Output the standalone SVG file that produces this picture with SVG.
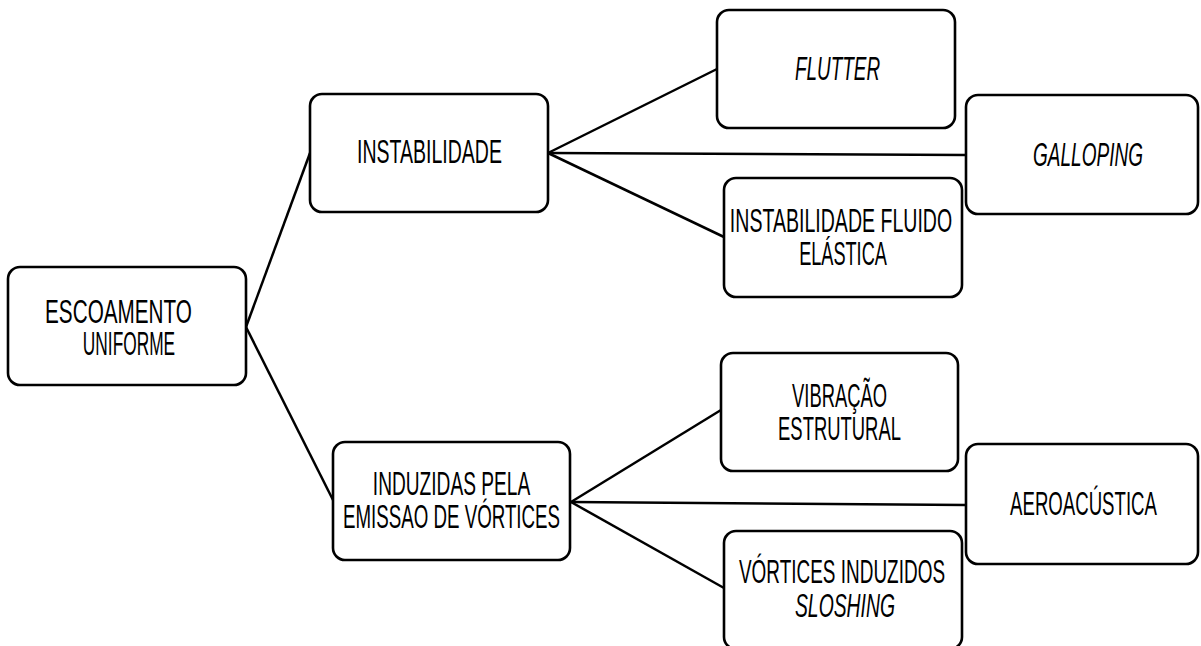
<svg xmlns="http://www.w3.org/2000/svg" width="1201" height="646" viewBox="0 0 1201 646">
<style>
.box{fill:#fff;stroke:#000;stroke-width:2.6}
.t{font-family:"Liberation Sans",Arial,sans-serif;font-size:33px;fill:#000;text-anchor:middle}
.i{font-style:italic}
#connectors line{stroke:#000;stroke-width:2.5}
</style>
<rect width="1201" height="646" fill="#fff"/>
<g id="connectors">
<line x1="246" y1="327" x2="310" y2="153"/>
<line x1="246" y1="327" x2="333" y2="500"/>
<line x1="548" y1="153" x2="717" y2="69"/>
<line x1="548" y1="153" x2="966" y2="155"/>
<line x1="548" y1="153" x2="724" y2="237"/>
<line x1="571" y1="502" x2="721" y2="410"/>
<line x1="571" y1="502" x2="966" y2="505"/>
<line x1="571" y1="502" x2="724" y2="588"/>
</g>
<g id="escoamento">
<rect class="box" x="8" y="267" width="238" height="118" rx="12"/>
<text class="t" transform="translate(118.5 323) scale(0.65 1)" textLength="226" lengthAdjust="spacingAndGlyphs">ESCOAMENTO</text>
<text class="t" transform="translate(129 355) scale(0.65 1)" textLength="142" lengthAdjust="spacingAndGlyphs">UNIFORME</text>
</g>
<g id="instabilidade">
<rect class="box" x="310" y="94" width="238" height="118" rx="12"/>
<text class="t" transform="translate(429.5 163) scale(0.65 1)" textLength="223" lengthAdjust="spacingAndGlyphs">INSTABILIDADE</text>
</g>
<g id="flutter">
<rect class="box" x="717" y="10" width="238" height="118" rx="12"/>
<text class="t i" transform="translate(837.5 80) scale(0.65 1)" textLength="131" lengthAdjust="spacingAndGlyphs">FLUTTER</text>
</g>
<g id="galloping">
<rect class="box" x="966" y="95" width="232" height="119" rx="12"/>
<text class="t i" transform="translate(1088 166) scale(0.65 1)" textLength="169" lengthAdjust="spacingAndGlyphs">GALLOPING</text>
</g>
<g id="fluidoelastica">
<rect class="box" x="724" y="178" width="238" height="119" rx="12"/>
<text class="t" transform="translate(841 232) scale(0.65 1)" textLength="342" lengthAdjust="spacingAndGlyphs">INSTABILIDADE FLUIDO</text>
<text class="t" transform="translate(843 265) scale(0.65 1)" textLength="135" lengthAdjust="spacingAndGlyphs">ELÁSTICA</text>
</g>
<g id="induzidas">
<rect class="box" x="333" y="442" width="237" height="118" rx="12"/>
<text class="t" transform="translate(451.5 495) scale(0.65 1)" textLength="242" lengthAdjust="spacingAndGlyphs">INDUZIDAS PELA</text>
<text class="t" transform="translate(451.5 528) scale(0.65 1)" textLength="334" lengthAdjust="spacingAndGlyphs">EMISSAO DE VÓRTICES</text>
</g>
<g id="vibracao">
<rect class="box" x="721" y="353" width="237" height="118" rx="12"/>
<text class="t" transform="translate(839.5 407) scale(0.65 1)" textLength="146" lengthAdjust="spacingAndGlyphs">VIBRAÇÃO</text>
<text class="t" transform="translate(839.5 440) scale(0.65 1)" textLength="189" lengthAdjust="spacingAndGlyphs">ESTRUTURAL</text>
</g>
<g id="aeroacustica">
<rect class="box" x="966" y="444" width="232" height="120" rx="12"/>
<text class="t" transform="translate(1083.5 515) scale(0.65 1)" textLength="226" lengthAdjust="spacingAndGlyphs">AEROACÚSTICA</text>
</g>
<g id="vortices">
<rect class="box" x="724" y="531" width="238" height="118" rx="12"/>
<text class="t" transform="translate(842 583) scale(0.65 1)" textLength="317" lengthAdjust="spacingAndGlyphs">VÓRTICES INDUZIDOS</text>
<text class="t i" transform="translate(845 617) scale(0.65 1)" textLength="154" lengthAdjust="spacingAndGlyphs">SLOSHING</text>
</g>
</svg>
